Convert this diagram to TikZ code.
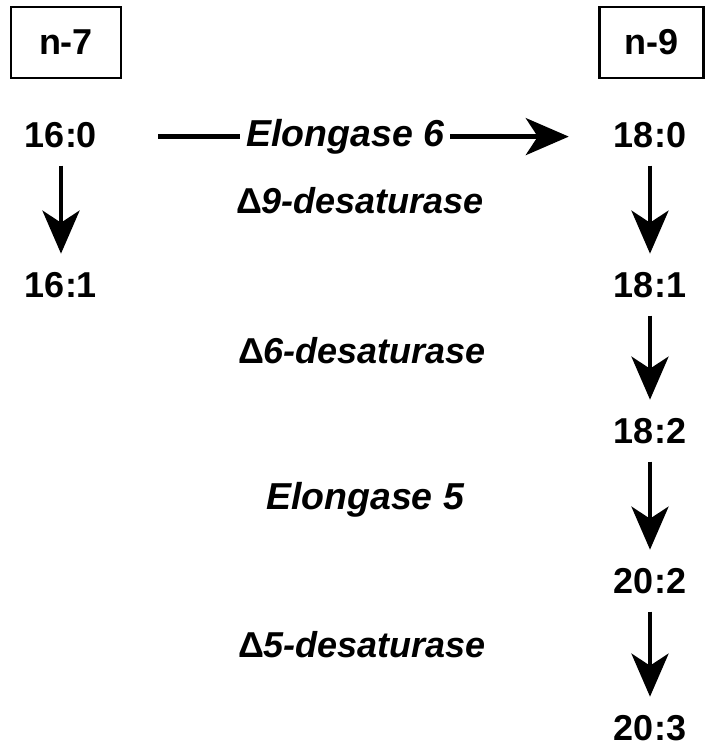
\documentclass[tikz,border=0pt]{standalone}
\usepackage{fontspec}
\setmainfont{Liberation Sans}
\usetikzlibrary{arrows.meta}
\begin{document}
\begin{tikzpicture}[x=1pt,y=-1pt,
  num/.style={font=\fontsize{36}{40}\selectfont\bfseries, inner sep=0pt, anchor=base},
  enz/.style={font=\fontsize{36}{40}\selectfont\bfseries\itshape, inner sep=0pt, anchor=base},
  elo/.style={font=\fontsize{37.5}{40}\selectfont\bfseries\itshape},
  boxed/.style={draw, line width=2.5pt, minimum height=71pt, inner sep=0pt,
    font=\fontsize{36}{40}\selectfont\bfseries},
  arr/.style={line width=4.5pt, -{Stealth[length=43pt,width=37pt,inset=12pt]}},
  vstep/.style={arr, shorten <=18pt, shorten >=18pt}]
\useasboundingbox[fill=white] (0,0) rectangle (706,749);

\node[boxed, minimum width=110pt] (n7) at (66,42.5) {n-7};
\node[boxed, minimum width=104pt] (n9) at (651.5,42.5) {n-9};

\node[num] (a160) at (61,147) {16:0};
\node[num] (a161) at (61,297) {16:1};
\node[num] (b180) at (650,147) {18:0};
\node[num] (b181) at (650,297) {18:1};
\node[num] (b182) at (650,443) {18:2};
\node[num] (b202) at (650,593) {20:2};
\node[num] (b203) at (650,740) {20:3};

\draw[vstep] (a160.south) -- (a161.north);
\draw[vstep] (b180.south) -- (b181.north);
\draw[vstep] (b181.south) -- (b182.north);
\draw[vstep] (b182.south) -- (b202.north);
\draw[vstep] (b202.south) -- (b203.north);

\draw[arr, shorten <=61pt, shorten >=45pt] ([yshift=-2pt]a160.east) -- ([yshift=-2pt]b180.west)
  node[pos=0.48, fill=white, inner xsep=6pt, inner ysep=2pt, elo] (e6) {Elongase 6};

\node[enz] (d9) at (360,213) {{\upshape\textbf{Δ}}9-desaturase};
\node[enz] (d6) at (362,363) {{\upshape\textbf{Δ}}6-desaturase};
\node[enz, elo] (e5) at (365,509) {Elongase 5};
\node[enz] (d5) at (362,657) {{\upshape\textbf{Δ}}5-desaturase};
\end{tikzpicture}
\end{document}
